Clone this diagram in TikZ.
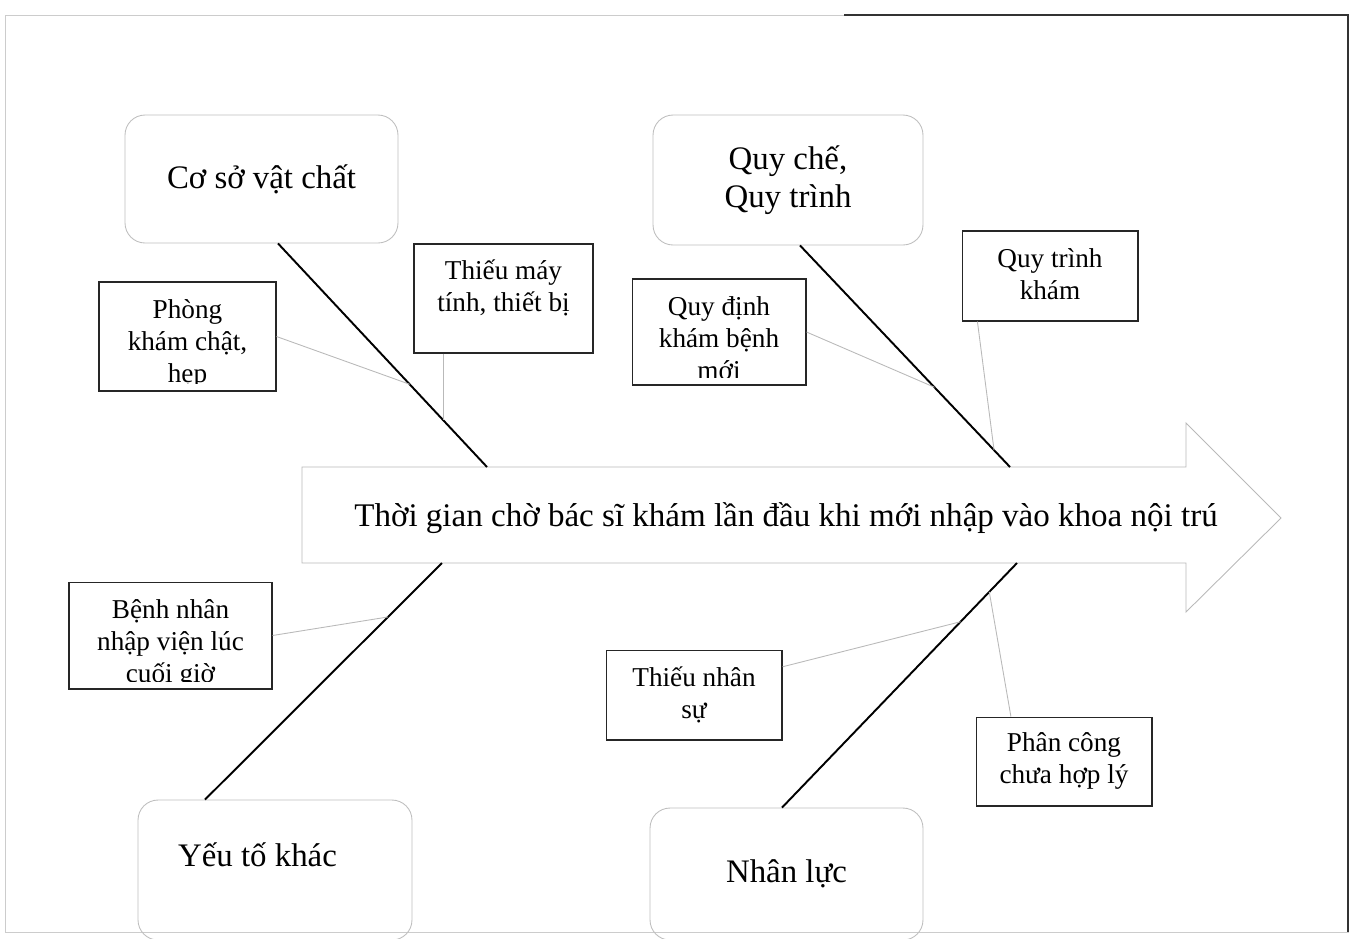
\documentclass[tikz,border=0pt]{standalone}
\usepackage{fontspec}
\setmainfont{Liberation Serif}
\usetikzlibrary{calc}

\tikzset{
    category/.style={draw=gray!50, line width=0.5pt, rounded corners=0.4cm, inner sep=0pt,
        align=center, font=\fontsize{18.7}{21.6}\selectfont},
    cause/.style={draw=black!85, line width=0.6pt, inner sep=0pt},
    causetext/.style={anchor=base, inner sep=0pt, align=center, font=\fontsize{15.5}{18.2}\selectfont},
    bone/.style={line width=1.1pt},
    twig/.style={draw=gray!55, line width=0.5pt},
    spine/.style={draw=gray!55, line width=0.5pt, line join=miter},
}

\begin{document}
\begin{tikzpicture}[x=0.02cm, y=-0.02cm]
    \useasboundingbox (0,0) rectangle (1358,938);
    \draw[gray!40, line width=0.5pt] (5,15) rectangle (1348,932);
    \draw[black!80, line width=0.6pt] (844,15) -- (1348,15) -- (1348,932);

    \draw[spine] (302,467) -- (1186,467) -- (1186,423) -- (1281,518) -- (1186,612) -- (1186,563) -- (302,563) -- cycle;
    \node[font=\fontsize{18.8}{22}\selectfont] (effect) at (786,518) {Thời gian chờ bác sĩ khám lần đầu khi mới nhập vào khoa nội trú};

    \node[category, minimum width=5.46cm, minimum height=2.56cm] (coso) at (261.5,179) {Cơ sở vật chất};
    \node[category, minimum width=5.4cm, minimum height=2.6cm] (quyche) at (788,180) {Quy chế,\\Quy trình};
    \node[category, minimum width=5.48cm, minimum height=2.8cm, text depth=18pt] (yeuto) at (275,870) {Yếu tố khác\hspace*{0.7cm}};
    \node[category, minimum width=5.46cm, minimum height=2.64cm] (nhanluc) at (786.5,874) {Nhân lực};

    \node[cause, minimum width=3.54cm, minimum height=2.18cm] (phong) at (187.5,336.5) {};
    \node[cause, minimum width=3.58cm, minimum height=2.18cm] (thieumay) at (503.5,298.5) {};
    \node[cause, minimum width=3.48cm, minimum height=2.12cm] (quydinh) at (719,332) {};
    \node[cause, minimum width=3.52cm, minimum height=1.8cm] (quytrinh) at (1050,276) {};
    \node[cause, minimum width=4.06cm, minimum height=2.14cm] (benhnhan) at (170.5,635.5) {};
    \node[cause, minimum width=3.52cm, minimum height=1.8cm] (thieunhan) at (694,695) {};
    \node[cause, minimum width=3.52cm, minimum height=1.78cm] (phancong) at (1064,761.5) {};

    \begin{scope}
        \clip (phong.north west) rectangle ($(phong.south east)+(0,-8)$);
        \node[causetext] (phongtext) at ($(phong.north)+(0,101)$) {Phòng\\khám chật,\\hẹp};
    \end{scope}
    \begin{scope}
        \clip (quydinh.north west) rectangle ($(quydinh.south east)+(0,-8)$);
        \node[causetext] (quydinhtext) at ($(quydinh.north)+(0,101)$) {Quy định\\khám bệnh\\mới};
    \end{scope}
    \begin{scope}
        \clip (benhnhan.north west) rectangle ($(benhnhan.south east)+(0,-8)$);
        \node[causetext] (benhnhantext) at ($(benhnhan.north)+(0,101)$) {Bệnh nhân\\nhập viện lúc\\cuối giờ};
    \end{scope}
    \node[causetext] (thieumaytext) at ($(thieumay.north)+(0,68)$) {Thiếu máy\\tính, thiết bị};
    \node[causetext] (quytrinhtext) at ($(quytrinh.north)+(0,69)$) {Quy trình\\khám};
    \node[causetext] (thieunhantext) at ($(thieunhan.north)+(0,69)$) {Thiếu nhân\\sự};
    \node[causetext] (phancongtext) at ($(phancong.north)+(0,67)$) {Phân công\\chưa hợp lý};

    \coordinate (c1) at ($(coso.south)+(16.5,0)$);
    \coordinate (s1) at (487,467);
    \coordinate (c2) at ($(quyche.south)+(12,0)$);
    \coordinate (s2) at (1010,467);
    \coordinate (s3) at (442,563);
    \coordinate (c3) at ($(yeuto.north)+(-70,0)$);
    \coordinate (s4) at (1017,563);
    \coordinate (c4) at ($(nhanluc.north)+(-4.5,0)$);

    \draw[bone] (c1) -- (s1);
    \draw[bone] (c2) -- (s2);
    \draw[bone] (s3) -- (c3);
    \draw[bone] (s4) -- (c4);

    \coordinate (j1) at ($(c1)!0.63!(s1)$);
    \coordinate (j2) at ($(c1)!0.79!(s1)$);
    \coordinate (j3) at ($(c2)!0.64!(s2)$);
    \coordinate (j4) at ($(c2)!0.924!(s2)$);
    \coordinate (j5) at ($(s3)!0.228!(c3)$);
    \coordinate (j6) at ($(s4)!0.24!(c4)$);
    \coordinate (j7) at ($(s4)!0.118!(c4)$);

    \draw[twig] (phong.east) -- (j1);
    \draw[twig] (thieumay.south -| j2) -- (j2);
    \draw[twig] (quydinh.east) -- (j3);
    \draw[twig] ($(quytrinh.south west)!0.09!(quytrinh.south east)$) -- (j4);
    \draw[twig] (benhnhan.east) -- (j5);
    \draw[twig] ($(thieunhan.north east)!0.19!(thieunhan.south east)$) -- (j6);
    \draw[twig] ($(phancong.north west)!0.2!(phancong.north east)$) -- (j7);
\end{tikzpicture}
\end{document}
